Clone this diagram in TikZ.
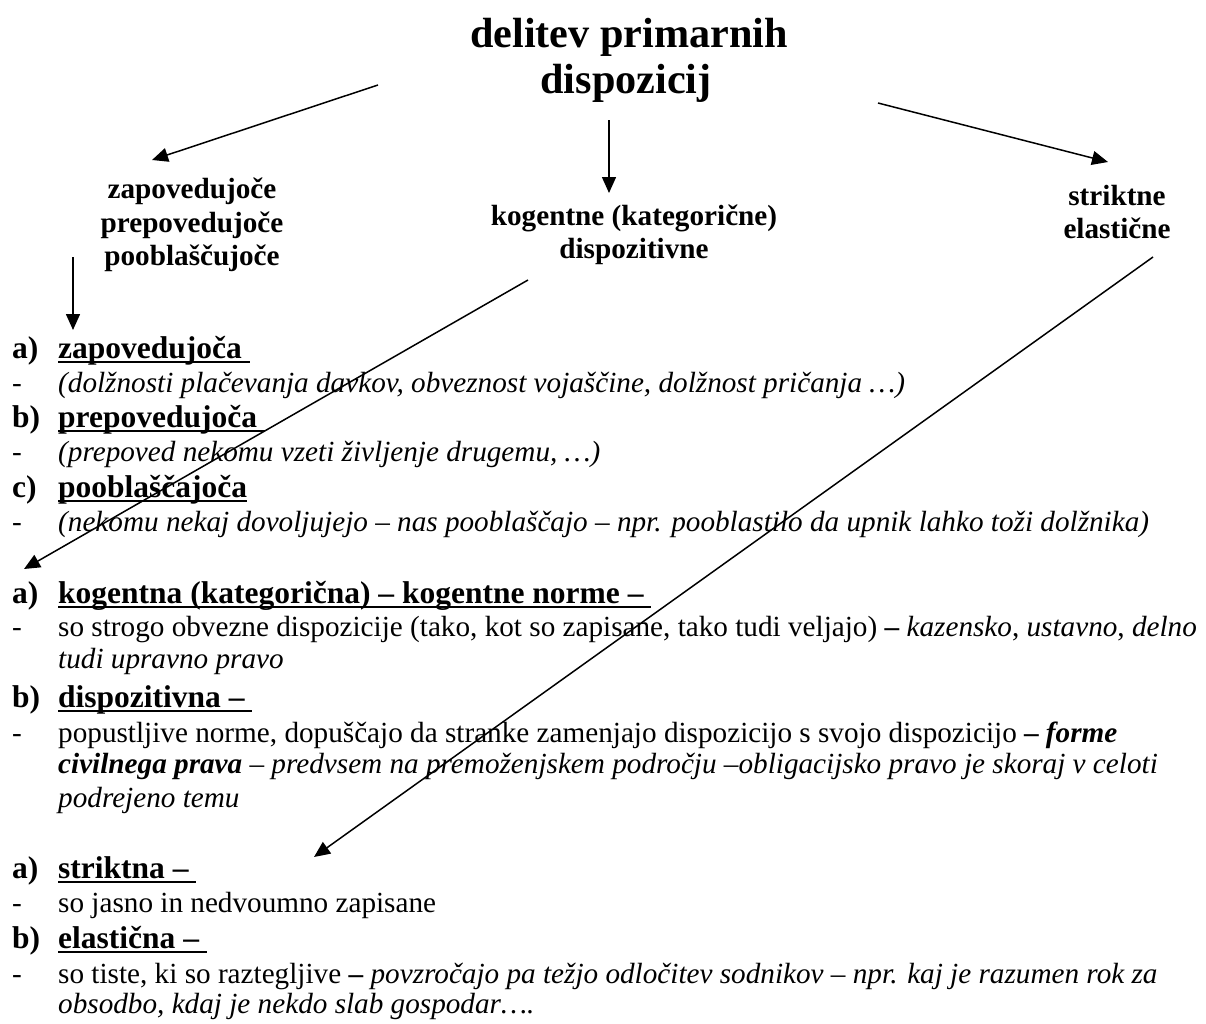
\documentclass[tikz,border=0pt]{standalone}
\usepackage{fontspec}
\setmainfont{Liberation Serif}
\usetikzlibrary{arrows.meta}
\newcommand\mytitle{\fontsize{42.2pt}{46pt}\selectfont\bfseries}
\newcommand\mycat{\fontsize{29.2pt}{33pt}\selectfont\bfseries}
\newcommand\myhead{\fontsize{31.5pt}{35pt}\selectfont\bfseries}
\newcommand\mybody{\fontsize{29.2pt}{33pt}\selectfont}
\newcommand\myul[1]{\setbox0\hbox{#1}\rlap{\rule[-5pt]{\wd0}{1.9pt}}\box0}
\tikzset{
  ttl/.style={anchor=base, inner sep=0pt, font=\mytitle},
  cat/.style={anchor=base, inner sep=0pt, font=\mycat},
  hd/.style={anchor=base west, inner sep=0pt, font=\myhead},
  bd/.style={anchor=base west, inner sep=0pt, font=\mybody},
  arr/.style={line width=1.5pt, -{Triangle[length=16pt,width=14pt]}}
}
\begin{document}
\begin{tikzpicture}[x=1pt,y=-1pt]
\useasboundingbox (0,0) rectangle (1206,1023);
\fill[white] (0,0) rectangle (1206,1023);
% title
\node[ttl] (ti1) at (629,47) {delitev primarnih};
\node[ttl] (ti2) at (626,93) {dispozicij};
% categories
\node[cat] (l1) at (192,198) {zapovedujoče};
\node[cat] (l2) at (192,232) {prepovedujoče};
\node[cat] (l3) at (192,265) {pooblaščujoče};
\node[cat] (m1) at (634,225) {kogentne (kategorične)};
\node[cat] (m2) at (634,258) {dispozitivne};
\node[cat] (r1) at (1117,205) {striktne};
\node[cat] (r2) at (1117,238) {elastične};
% section 1
\node[hd] (s1a) at (12,358) {a)};
\node[hd] (s1at) at (58,358) {\myul{zapovedujoča\ }};
\node[bd] (s1ad) at (12,392) {-};
\node[bd] (s1ax) at (58,392) {\itshape (dolžnosti plačevanja davkov, obveznost vojaščine, dolžnost pričanja …)};
\node[hd] (s1b) at (12,427) {b)};
\node[hd] (s1bt) at (58,427) {\myul{prepovedujoča\ }};
\node[bd] (s1bd) at (12,461) {-};
\node[bd] (s1bx) at (58,461) {\itshape (prepoved nekomu vzeti življenje drugemu, …)};
\node[hd] (s1c) at (12,497) {c)};
\node[hd] (s1ct) at (58,497) {\myul{pooblaščajoča}};
\node[bd] (s1cd) at (12,531) {-};
\node[bd] (s1cx) at (58,531) {\itshape (nekomu nekaj dovoljujejo – nas pooblaščajo – npr. pooblastilo da upnik lahko toži dolžnika)};
% section 2
\node[hd] (s2a) at (12,603) {a)};
\node[hd] (s2at) at (58,603) {\myul{kogentna (kategorična) – kogentne norme –\ }};
\node[bd] (s2ad) at (12,636) {-};
\node[bd] (s2ax) at (58,636) {so strogo obvezne dispozicije (tako, kot so zapisane, tako tudi veljajo) \textbf{–} \textit{kazensko}, \textit{ustavno}, \textit{delno}};
\node[bd] (s2ay) at (58,668) {\itshape tudi upravno pravo};
\node[hd] (s2b) at (12,707) {b)};
\node[hd] (s2bt) at (58,707) {\myul{dispozitivna –\ }};
\node[bd] (s2bd) at (12,742) {-};
\node[bd] (s2bx) at (58,742) {popustljive norme, dopuščajo da stranke zamenjajo dispozicijo s svojo dispozicijo \textbf{– \textit{forme}}};
\node[bd] (s2by) at (58,773) {\textbf{\textit{civilnega prava}} \textit{– predvsem na premoženjskem področju –obligacijsko pravo je skoraj v celoti}};
\node[bd] (s2bz) at (58,807) {\itshape podrejeno temu};
% section 3
\node[hd] (s3a) at (12,878) {a)};
\node[hd] (s3at) at (58,878) {\myul{striktna –\ }};
\node[bd] (s3ad) at (12,912) {-};
\node[bd] (s3ax) at (58,912) {so jasno in nedvoumno zapisane};
\node[hd] (s3b) at (12,948) {b)};
\node[hd] (s3bt) at (58,948) {\myul{elastična –\ }};
\node[bd] (s3bd) at (12,983) {-};
\node[bd] (s3bx) at (58,983) {so tiste, ki so raztegljive \textbf{–} \textit{povzročajo pa težjo odločitev sodnikov – npr. kaj je razumen rok za}};
\node[bd] (s3by) at (58,1013) {\itshape obsodbo, kdaj je nekdo slab gospodar….};
% arrow end points
\coordinate (a1s) at (378,85);   \coordinate (a1e) at (152,160);
\coordinate (a2s) at (609,120);  \coordinate (a2e) at (609,193);
\coordinate (a3s) at (878,103);  \coordinate (a3e) at (1108,162);
\coordinate (a4s) at (73,257);   \coordinate (a4e) at (73,330);
\coordinate (a5s) at (528,280);  \coordinate (a5e) at (24,569);
\coordinate (a6s) at (1153,257); \coordinate (a6e) at (314,857);
\draw[arr] (a1s) -- (a1e);
\draw[arr] (a2s) -- (a2e);
\draw[arr] (a3s) -- (a3e);
\draw[arr] (a4s) -- (a4e);
\draw[arr] (a5s) -- (a5e);
\draw[arr] (a6s) -- (a6e);
\end{tikzpicture}
\end{document}
